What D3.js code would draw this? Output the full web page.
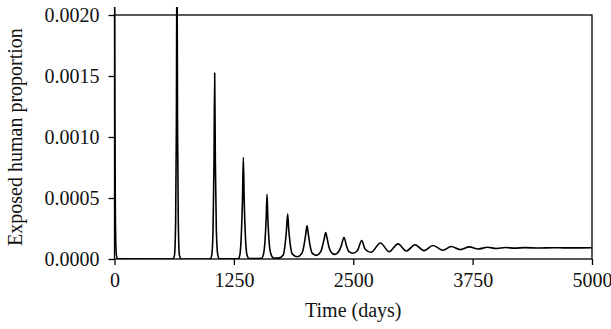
<!DOCTYPE html>
<html>
<head>
<meta charset="utf-8">
<script src="https://cdn.jsdelivr.net/npm/d3@7"></script>
<style>
  html, body { margin: 0; padding: 0; background: #fff; }
  svg { display: block; }
  text { font-family: "Liberation Serif", "Times New Roman", serif; fill: #111; }
</style>
</head>
<body>
<svg id="chart"></svg>
<script>
// time points (days)
const timeDays = [
  0, 4, 8, 13, 20, 35,
  610, 628, 640, 648, 654, 660, 668, 680, 700,
  1000, 1018, 1032, 1042, 1049, 1056, 1066, 1082, 1100,
  1295, 1312, 1328, 1340, 1349, 1358, 1370, 1388, 1410,
  1540, 1560, 1576, 1588, 1597, 1606, 1618, 1638, 1665,
  1720, 1765, 1785, 1801, 1813, 1825, 1842, 1862,
  1915, 1965, 1986, 2002, 2016, 2030, 2048, 2068,
  2113, 2160, 2182, 2197, 2211, 2226, 2245, 2265,
  2307, 2355, 2375, 2403, 2432, 2455,
  2495, 2545, 2588, 2625,
  2686, 2785, 2876, 2968, 3057, 3146, 3240, 3335, 3440, 3525,
  3620, 3715, 3810, 3905, 4000, 4095, 4190, 4300, 4450, 4600, 4800, 5000
]

// exposed human proportion at those times
const exposedProp = [
  0.0030, 0.0013, 0.0005, 0.00015, 0.00003, 0.000002,
  0, 0.00003, 0.0003, 0.0011, 0.0026, 0.0011, 0.0003, 0.00003, 0,
  0, 0.00003, 0.00025, 0.0008, 0.001525, 0.0008, 0.00025, 0.00003, 0.000001,
  0.000001, 0.00003, 0.0002, 0.00048, 0.000834, 0.00048, 0.0002, 0.00003, 0.000003,
  0.000005, 0.00004, 0.00015, 0.00033, 0.00053, 0.00033, 0.00015, 0.00004, 0.000008,
  0.000007, 0.00003, 0.00011, 0.00024, 0.000369, 0.00024, 0.00011, 0.00004,
  0.000019, 0.00005, 0.00012, 0.0002, 0.000273, 0.0002, 0.00011, 0.00005,
  0.00003, 0.00006, 0.00012, 0.00017, 0.000217, 0.00017, 0.0001, 0.00006,
  0.000038, 0.00007, 0.00011, 0.000176, 0.0001, 0.00006,
  0.000047, 0.00007, 0.000152, 0.00008,
  0.000055, 0.000131, 0.00006, 0.000124, 0.000066, 0.000117, 0.000069, 0.000111, 0.000072, 0.000103,
  0.000077, 0.000099, 0.000082, 0.000096, 0.000086, 0.000094, 0.000089, 0.000093, 0.00009, 0.000092, 0.000091, 0.000092
]

const xTicks = [0, 1250, 2500, 3750, 5000]
const yTicks = [0, 0.0005, 0.0010, 0.0015, 0.0020]

const xTitle = "Time (days)"
const yTitle = "Exposed human proportion"

const width = 611
const height = 329
const margin = {top: 15, right: 19, bottom: 70, left: 114.5}
const fontSize = 20

const svg = d3.select("svg#chart")
  .attr("width", width)
  .attr("height", height)
  .attr("viewBox", `0 0 ${width} ${height}`)

const x = d3.scaleLinear()
  .domain([0, 5000])
  .range([margin.left, width - margin.right])

const y = d3.scaleLinear()
  .domain([0, 0.0020])
  .range([height - margin.bottom, margin.top])

const rows = timeDays.map((t, i) => ({t, v: exposedProp[i]}))

// the curve runs a little past the top of the frame before being cut
svg.append("defs").append("clipPath")
  .attr("id", "clip")
  .append("rect")
  .attr("x", margin.left - 2)
  .attr("y", margin.top - 8)
  .attr("width", width - margin.left - margin.right + 4)
  .attr("height", height - margin.bottom - margin.top + 8)

const line = d3.line()
  .x(d => x(d.t))
  .y(d => y(d.v))
  .curve(d3.curveMonotoneX)

// frame
svg.append("rect")
  .attr("x", x(0))
  .attr("y", y(0.0020))
  .attr("width", x(5000) - x(0))
  .attr("height", y(0) - y(0.0020))
  .attr("fill", "none")
  .attr("stroke", "#000")
  .attr("stroke-width", 1.3)

svg.append("path")
  .datum(rows)
  .attr("clip-path", "url(#clip)")
  .attr("d", line)
  .attr("fill", "none")
  .attr("stroke", "#000")
  .attr("stroke-width", 1.6)
  .attr("stroke-linejoin", "round")

const xAxis = g => g
  .attr("transform", `translate(0,${y(0)})`)
  .call(d3.axisBottom(x).tickValues(xTicks).tickFormat(d3.format("d")).tickSize(6).tickPadding(8))
  .call(g => g.select(".domain").remove())

const yAxis = g => g
  .attr("transform", `translate(${x(0)},0)`)
  .call(d3.axisLeft(y).tickValues(yTicks).tickFormat(d3.format(".4f")).tickSize(6).tickPadding(9))
  .call(g => g.select(".domain").remove())

svg.append("g").call(xAxis)
svg.append("g").call(yAxis)

svg.selectAll(".tick line").attr("stroke", "#000").attr("stroke-width", 1.3)
svg.selectAll(".tick text")
  .attr("font-family", "Liberation Serif, serif")
  .attr("font-size", fontSize)
  .attr("fill", "#111")

svg.append("text")
  .attr("x", (x(0) + x(5000)) / 2)
  .attr("y", 317)
  .attr("text-anchor", "middle")
  .attr("font-size", fontSize)
  .text(xTitle)

svg.append("text")
  .attr("transform", `translate(22,${(y(0) + y(0.0020)) / 2}) rotate(-90)`)
  .attr("text-anchor", "middle")
  .attr("font-size", fontSize)
  .text(yTitle)
</script>
</body>
</html>
